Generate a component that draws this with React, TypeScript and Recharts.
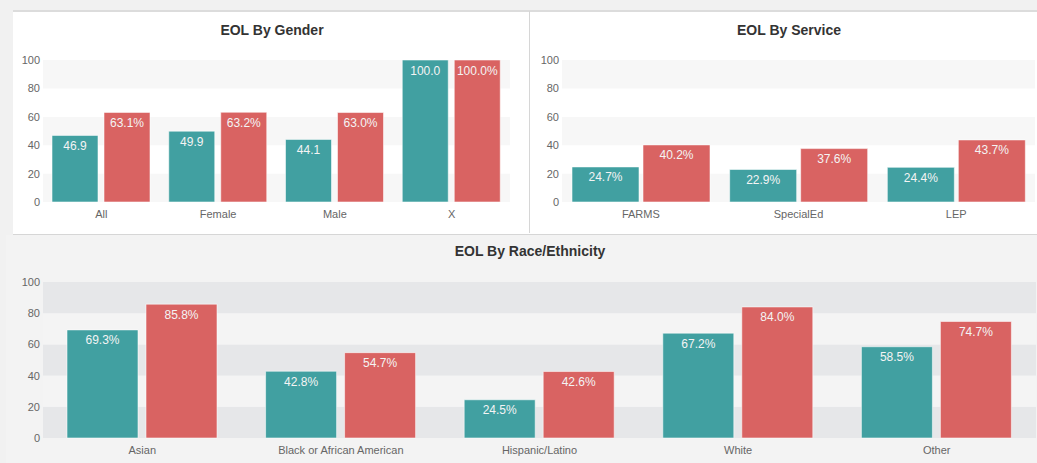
import React from "react";
import { BarChart, Bar, XAxis, YAxis, ReferenceArea, LabelList } from "recharts";

const genderCats = ["All", "Female", "Male", "X"];
const genderEol = [46.9, 49.9, 44.1, 100.0];
const genderRate = [63.1, 63.2, 63.0, 100.0];

const serviceCats = ["FARMS", "SpecialEd", "LEP"];
const serviceEol = [24.7, 22.9, 24.4];
const serviceRate = [40.2, 37.6, 43.7];

const raceCats = ["Asian", "Black or African American", "Hispanic/Latino", "White", "Other"];
const raceEol = [69.3, 42.8, 24.5, 67.2, 58.5];
const raceRate = [85.8, 54.7, 42.6, 84.0, 74.7];

const yTicks = [0, 20, 40, 60, 80, 100];

const TEAL = "#41a0a1";
const RED = "#d96362";
const FONT = "'Liberation Sans', Arial, sans-serif";

const pct = (v: any) => `${Number(v).toFixed(1)}%`;
const plain = (v: any) => Number(v).toFixed(1);

function build(cats: string[], a: number[], b: number[]) {
    return cats.map((name, i) => ({ name, a: a[i], b: b[i] }));
}

interface PanelChartProps {
    data: any[];
    left: number;
    top: number;
    width: number;
    height: number;
    margin: { top: number; right: number; bottom: number; left: number };
    yWidth: number;
    xHeight: number;
    categoryGap: number;
    barGap: number;
    bandDark: string;
    bandLight: string;
    fmtA: (v: any) => string;
}

function PanelChart({
    data,
    left,
    top,
    width,
    height,
    margin,
    yWidth,
    xHeight,
    categoryGap,
    barGap,
    bandDark,
    bandLight,
    fmtA,
}: PanelChartProps) {
    return (
        <div style={{ position: "absolute", left, top, width, height }}>
            <BarChart
                width={width}
                height={height}
                data={data}
                margin={margin}
                barCategoryGap={categoryGap}
                barGap={barGap}
            >
                {yTicks.slice(0, -1).map((t, i) => (
                    <ReferenceArea
                        key={`band-${t}`}
                        y1={t}
                        y2={yTicks[i + 1]}
                        fill={i % 2 === 0 ? bandDark : bandLight}
                        fillOpacity={1}
                        stroke="none"
                    />
                ))}
                <XAxis
                    dataKey="name"
                    height={xHeight}
                    axisLine={false}
                    tickLine={false}
                    tick={{ fill: "#666", fontSize: 11 }}
                />
                <YAxis
                    width={yWidth}
                    domain={[0, 100]}
                    ticks={yTicks}
                    axisLine={false}
                    tickLine={false}
                    tickSize={0}
                    tickMargin={3}
                    tick={{ fill: "#666", fontSize: 11 }}
                />
                <Bar dataKey="a" fill={TEAL} stroke="rgba(255,255,255,0.55)" isAnimationActive={false}>
                    <LabelList
                        dataKey="a"
                        position="insideTop"
                        offset={6}
                        formatter={fmtA}
                        fill="#f4f4f4"
                        fontSize={12}
                    />
                </Bar>
                <Bar dataKey="b" fill={RED} stroke="rgba(255,255,255,0.55)" isAnimationActive={false}>
                    <LabelList
                        dataKey="b"
                        position="insideTop"
                        offset={6}
                        formatter={pct}
                        fill="#f4f4f4"
                        fontSize={12}
                    />
                </Bar>
            </BarChart>
        </div>
    );
}

const titleStyle: React.CSSProperties = {
    position: "absolute",
    fontSize: 14,
    fontWeight: "bold",
    color: "#333",
    transform: "translate(-50%, -50%)",
    whiteSpace: "nowrap",
};

export default function App() {
    return (
        <div
            style={{
                position: "fixed",
                left: 0,
                top: 0,
                width: 1037,
                height: 463,
                background: "#f1f1f1",
                fontFamily: FONT,
                overflow: "hidden",
            }}
        >
            {/* top panels */}
            <div
                style={{
                    position: "absolute",
                    left: 13,
                    top: 10,
                    width: 1030,
                    height: 222,
                    background: "#fff",
                    borderTop: "2px solid #dcdcdc",
                    borderBottom: "1px solid #d6d6d6",
                }}
            />
            <div style={{ position: "absolute", left: 529, top: 11, width: 1, height: 222, background: "#d6d6d6" }} />
            {/* bottom panel */}
            <div style={{ position: "absolute", left: 6, top: 235, width: 1031, height: 228, background: "#f3f3f3" }} />

            <div style={{ ...titleStyle, left: 272, top: 30 }}>EOL By Gender</div>
            <div style={{ ...titleStyle, left: 789, top: 30 }}>EOL By Service</div>
            <div style={{ ...titleStyle, left: 530, top: 251 }}>EOL By Race/Ethnicity</div>

            <PanelChart
                data={build(genderCats, genderEol, genderRate)}
                left={13}
                top={11}
                width={517}
                height={222}
                margin={{ top: 49, right: 20, bottom: 1, left: 0 }}
                yWidth={30}
                xHeight={30}
                categoryGap={9}
                barGap={6}
                bandDark="#f7f7f7"
                bandLight="#ffffff"
                fmtA={plain}
            />
            <PanelChart
                data={build(serviceCats, serviceEol, serviceRate)}
                left={530}
                top={11}
                width={507}
                height={222}
                margin={{ top: 49, right: 2, bottom: 1, left: 0 }}
                yWidth={32}
                xHeight={30}
                categoryGap={10}
                barGap={4}
                bandDark="#f7f7f7"
                bandLight="#ffffff"
                fmtA={pct}
            />
            <PanelChart
                data={build(raceCats, raceEol, raceRate)}
                left={6}
                top={235}
                width={1031}
                height={228}
                margin={{ top: 47, right: 1, bottom: 1, left: 0 }}
                yWidth={37}
                xHeight={24}
                categoryGap={24}
                barGap={8}
                bandDark="#e6e7e9"
                bandLight="#f4f4f4"
                fmtA={pct}
            />
        </div>
    );
}
